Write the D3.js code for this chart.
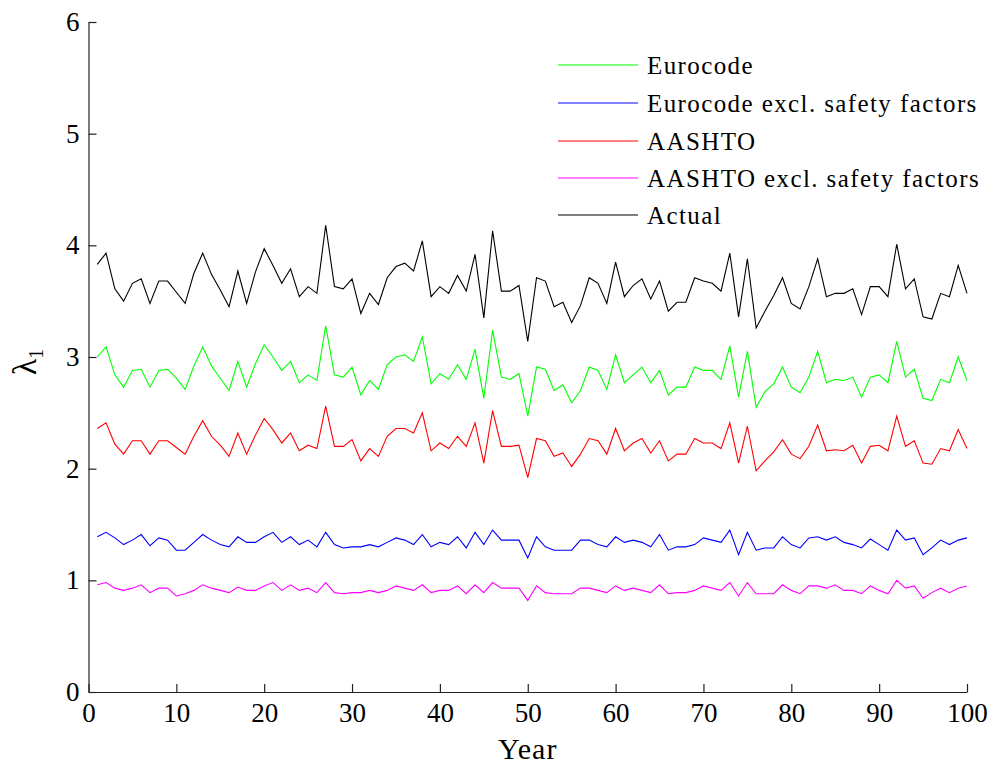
<!DOCTYPE html>
<html><head><meta charset="utf-8">
<script src="https://cdn.jsdelivr.net/npm/d3@7"></script>
<style>
html,body{margin:0;padding:0;background:#fff;}
svg text{font-family:"Liberation Serif","Times New Roman",serif;fill:#000;}
</style></head>
<body><svg id="chart" width="993" height="764"></svg>
<script>
const years = d3.range(1, 101);
const xTicks = [0,10,20,30,40,50,60,70,80,90,100];
const yTicks = [0,1,2,3,4,5,6];
const seriesNames = ["Eurocode","Eurocode excl. safety factors","AASHTO","AASHTO excl. safety factors","Actual"];
const seriesColors = ["#00ff00","#0000ff","#ff0000","#ff00ff","#000000"];

const eurocode = [3.00,3.09,2.84,2.73,2.88,2.89,2.73,2.88,2.89,2.81, 2.71,2.92,3.09,2.92,2.81,2.70,2.96,2.73,2.94,3.11, 3.00,2.88,2.96,2.77,2.84,2.79,3.28,2.84,2.82,2.91, 2.66,2.79,2.71,2.93,3.00,3.02,2.96,3.18,2.76,2.85, 2.80,2.93,2.80,3.07,2.63,3.24,2.82,2.80,2.85,2.47, 2.91,2.89,2.70,2.75,2.59,2.70,2.91,2.88,2.71,3.02, 2.77,2.84,2.91,2.77,2.88,2.66,2.73,2.73,2.91,2.88, 2.88,2.80,3.10,2.64,3.05,2.55,2.69,2.76,2.91,2.73, 2.68,2.82,3.05,2.77,2.80,2.79,2.82,2.64,2.82,2.84, 2.77,3.14,2.82,2.89,2.63,2.61,2.80,2.77,3.00,2.79];
const eurocodeExcl = [1.39,1.43,1.38,1.32,1.36,1.41,1.31,1.38,1.36,1.27, 1.27,1.34,1.41,1.36,1.32,1.30,1.39,1.34,1.34,1.39, 1.43,1.34,1.39,1.32,1.36,1.30,1.43,1.32,1.29,1.30, 1.30,1.32,1.30,1.34,1.38,1.36,1.32,1.41,1.30,1.34, 1.32,1.39,1.29,1.43,1.32,1.45,1.36,1.36,1.36,1.20, 1.39,1.30,1.27,1.27,1.27,1.36,1.36,1.32,1.30,1.39, 1.34,1.36,1.34,1.30,1.41,1.27,1.30,1.30,1.32,1.38, 1.36,1.34,1.45,1.23,1.43,1.27,1.29,1.29,1.39,1.32, 1.29,1.38,1.39,1.36,1.39,1.34,1.32,1.29,1.37,1.32, 1.27,1.45,1.36,1.38,1.23,1.29,1.36,1.32,1.36,1.38];
const aashto = [2.36,2.41,2.22,2.13,2.25,2.25,2.13,2.25,2.25,2.19, 2.13,2.29,2.43,2.29,2.21,2.11,2.32,2.13,2.30,2.45, 2.35,2.23,2.32,2.16,2.21,2.18,2.56,2.20,2.20,2.26, 2.07,2.18,2.11,2.29,2.36,2.36,2.32,2.50,2.16,2.23, 2.18,2.29,2.20,2.41,2.05,2.52,2.20,2.20,2.21,1.92, 2.27,2.25,2.11,2.14,2.02,2.13,2.27,2.25,2.13,2.36, 2.16,2.23,2.27,2.14,2.25,2.07,2.13,2.13,2.27,2.23, 2.23,2.18,2.41,2.05,2.38,1.98,2.07,2.15,2.26,2.13, 2.09,2.20,2.39,2.16,2.17,2.16,2.21,2.05,2.20,2.21, 2.16,2.47,2.20,2.25,2.05,2.04,2.18,2.16,2.35,2.18];
const aashtoExcl = [0.96,0.98,0.93,0.91,0.93,0.96,0.89,0.93,0.93,0.86, 0.88,0.91,0.96,0.93,0.91,0.89,0.94,0.91,0.91,0.95, 0.98,0.91,0.96,0.91,0.93,0.89,0.98,0.89,0.88,0.89, 0.89,0.91,0.89,0.91,0.95,0.93,0.91,0.96,0.89,0.91, 0.91,0.95,0.88,0.96,0.89,0.98,0.93,0.93,0.93,0.82, 0.95,0.89,0.88,0.88,0.88,0.93,0.93,0.91,0.89,0.95, 0.91,0.93,0.91,0.89,0.96,0.88,0.89,0.89,0.91,0.95, 0.93,0.91,0.98,0.86,0.98,0.88,0.88,0.88,0.96,0.91, 0.88,0.95,0.95,0.93,0.96,0.91,0.91,0.88,0.95,0.91, 0.88,1.00,0.93,0.95,0.84,0.89,0.93,0.89,0.93,0.95];
const actual = [3.83,3.93,3.61,3.50,3.66,3.70,3.48,3.68,3.68,3.58, 3.48,3.75,3.93,3.74,3.60,3.45,3.77,3.48,3.76,3.97, 3.82,3.66,3.79,3.54,3.63,3.57,4.18,3.63,3.61,3.70, 3.39,3.57,3.47,3.71,3.81,3.84,3.77,4.04,3.54,3.63, 3.57,3.73,3.59,3.92,3.35,4.13,3.59,3.59,3.64,3.14, 3.71,3.68,3.45,3.49,3.31,3.46,3.71,3.66,3.48,3.85, 3.54,3.64,3.70,3.52,3.68,3.41,3.49,3.49,3.71,3.68, 3.66,3.59,3.93,3.36,3.88,3.26,3.41,3.55,3.71,3.48, 3.43,3.63,3.88,3.54,3.57,3.57,3.61,3.38,3.63,3.63, 3.54,4.01,3.61,3.70,3.36,3.34,3.57,3.54,3.82,3.57];

const seriesValues = [eurocode, eurocodeExcl, aashto, aashtoExcl, actual];

const svg = d3.select("#chart");
const mLeft = 88.5, mRight = 967, mTop = 22, mBottom = 692;
const x = d3.scaleLinear().domain([0,100]).range([mLeft,mRight]);
const y = d3.scaleLinear().domain([0,6]).range([mBottom,mTop]);

// axes
const fmt = d3.format("d");
const xAxis = svg.append("g").attr("transform",`translate(0,${mBottom})`)
  .call(d3.axisBottom(x).tickValues(xTicks).tickFormat(fmt).tickSizeInner(-8).tickSizeOuter(0).tickPadding(11));
const yAxis = svg.append("g").attr("transform",`translate(${mLeft},0)`)
  .call(d3.axisLeft(y).tickValues(yTicks).tickFormat(fmt).tickSizeInner(-8).tickSizeOuter(0).tickPadding(9));
[xAxis,yAxis].forEach(g=>{
  g.select(".domain").attr("stroke","#222").attr("stroke-width",1.2);
  g.selectAll(".tick line").attr("stroke","#222").attr("stroke-width",1.2);
  g.selectAll(".tick text").attr("font-size",27).attr("fill","#000");
});
xAxis.selectAll(".tick text").attr("dy","0.71em");

// lines
const line = d3.line().x((d,i)=>x(years[i])).y(d=>y(d));
seriesValues.forEach((vals,k)=>{
  svg.append("path").datum(vals).attr("d",line)
    .attr("fill","none").attr("stroke",seriesColors[k]).attr("stroke-width",1.1)
    .attr("stroke-linejoin","miter");
});

// legend
const legY = [65,103,141,178,215];
const leg = svg.append("g");
seriesNames.forEach((name,k)=>{
  leg.append("line").attr("x1",558).attr("x2",638).attr("y1",legY[k]).attr("y2",legY[k])
    .attr("stroke",seriesColors[k]).attr("stroke-width",1.1);
  leg.append("text").attr("x",647).attr("y",legY[k]).attr("dy","0.35em")
    .attr("font-size",25).attr("letter-spacing","1.4px").text(name);
});

// axis labels
svg.append("text").attr("x",(mLeft+mRight)/2).attr("y",759).attr("text-anchor","middle")
  .attr("font-size",30).attr("letter-spacing","1px").text("Year");
const yl = svg.append("text").attr("transform",`translate(36,362) rotate(-90)`).attr("text-anchor","middle")
  .attr("font-size",34);
yl.append("tspan").text("λ");
yl.append("tspan").attr("font-size",20).attr("dy",7).text("1");
</script></body></html>
